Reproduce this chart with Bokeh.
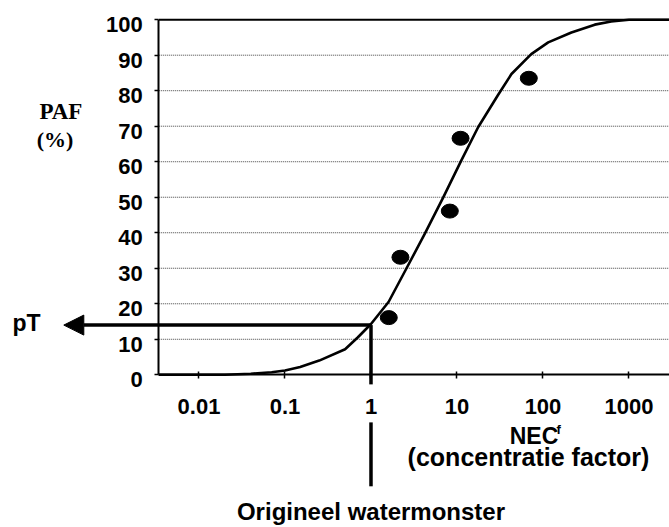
from bokeh.plotting import figure
from bokeh.models import (Range1d, FixedTicker, CustomJSTickFormatter, Label,
                          Arrow, NormalHead, LinearAxis)
from bokeh.embed import file_html
from bokeh.resources import INLINE

# ---- data ----
curve_x = [0.0034, 0.01, 0.02, 0.04, 0.07, 0.1, 0.15, 0.25, 0.5, 0.7, 1.0, 1.6, 2.5,
           4.2, 6.9, 11.2, 17.6, 24, 30, 43, 73, 115, 214, 400, 620, 1000, 2950]
curve_paf = [0, 0, 0, 0.3, 0.7, 1.2, 2.2, 4.0, 7.2, 10.5, 14.3, 20.5, 29.3,
             39.6, 49.9, 60.3, 69.7, 75.0, 78.8, 84.7, 90.3, 93.6, 96.4, 98.6, 99.5, 100, 100]

point_x = [1.61, 2.20, 8.25, 11.0, 68.4]
point_paf = [16.1, 33.1, 46.1, 66.6, 83.5]

x_ticks = [0.01, 0.1, 1, 10, 100, 1000]
x_tick_labels = ["0.01", "0.1", "1", "10", "100", "1000"]
y_ticks = [0, 10, 20, 30, 40, 50, 60, 70, 80, 90, 100]
y_tick_labels = ["0", "10", "20", "30", "40", "50", "60", "70", "80", "90", "100"]
grid_ticks = [10, 20, 30, 40, 50, 60, 70, 80, 90]

sample_x = 1.0      # original water sample (concentration factor 1)
pt_value = 14.0     # pT

# plot-area extent (axis bounds)
X_LO, X_HI = 0.00341, 2958
Y_LO, Y_HI = 0, 100
Y_LABEL_DROP = 1.4   # y tick labels sit slightly below their ticks in the original

FONT = "Liberation Sans"

p = figure(width=669, height=527, x_axis_type="log",
           x_range=Range1d(4.92e-5, 2958), y_range=Range1d(-43.0, 105.4),
           output_backend="svg", toolbar_location=None,
           min_border_left=0, min_border_right=0, min_border_top=0, min_border_bottom=0)
p.outline_line_color = None
p.background_fill_color = "white"
p.border_fill_color = "white"
p.xgrid.visible = False
p.ygrid.visible = False

xaxis = p.xaxis[0]
xaxis.fixed_location = 0
xaxis.bounds = (X_LO, X_HI)
xaxis.ticker = FixedTicker(ticks=x_ticks)
xaxis.formatter = CustomJSTickFormatter(args=dict(tvals=x_ticks, tlabels=x_tick_labels), code="""
const i = tvals.findIndex(t => Math.abs(Math.log10(t) - Math.log10(tick)) < 1e-6);
return i >= 0 ? tlabels[i] : '';
""")
xaxis.minor_tick_line_color = None
xaxis.major_tick_in = 3
xaxis.major_tick_out = 4
xaxis.axis_line_width = 2
xaxis.major_tick_line_width = 1.5
xaxis.major_label_standoff = 20
xaxis.major_label_text_font = FONT
xaxis.major_label_text_font_style = "bold"
xaxis.major_label_text_font_size = "22px"
xaxis.major_label_text_color = "black"

# y axis: line and tick marks
yaxis = p.yaxis[0]
yaxis.fixed_location = X_LO
yaxis.bounds = (Y_LO, Y_HI)
yaxis.ticker = FixedTicker(ticks=y_ticks)
yaxis.minor_tick_line_color = None
yaxis.major_tick_in = 0
yaxis.major_tick_out = 4
yaxis.axis_line_width = 2
yaxis.major_tick_line_width = 1.5
yaxis.major_label_text_font_size = "0px"
yaxis.major_label_text_alpha = 0

# y axis tick labels (same values, nudged down a few pixels like the original)
ylab_axis = LinearAxis(fixed_location=X_LO, bounds=(Y_LO - Y_LABEL_DROP, Y_HI),
                       ticker=FixedTicker(ticks=[v - Y_LABEL_DROP for v in y_ticks]),
                       formatter=CustomJSTickFormatter(
                           args=dict(tvals=y_ticks, tlabels=y_tick_labels, drop=Y_LABEL_DROP),
                           code="""
const i = tvals.findIndex(t => Math.abs(t - (tick + drop)) < 1e-6);
return i >= 0 ? tlabels[i] : '';
"""))
ylab_axis.axis_line_color = None
ylab_axis.major_tick_line_color = None
ylab_axis.minor_tick_line_color = None
ylab_axis.major_tick_in = 0
ylab_axis.major_tick_out = 4
ylab_axis.major_label_standoff = 12
ylab_axis.major_label_text_font = FONT
ylab_axis.major_label_text_font_style = "bold"
ylab_axis.major_label_text_font_size = "22px"
ylab_axis.major_label_text_color = "black"
p.add_layout(ylab_axis, "left")

# dotted horizontal gridlines across the plot area, solid line on top
p.segment(x0=[X_LO] * len(grid_ticks), x1=[X_HI] * len(grid_ticks), y0=grid_ticks, y1=grid_ticks,
          line_color="#222222", line_dash="1 1", line_width=1, line_alpha=0.85)
p.segment(x0=[X_LO], x1=[X_HI], y0=[Y_HI], y1=[Y_HI], line_color="black", line_width=2)

# curve and points
p.line(curve_x, curve_paf, line_color="black", line_width=2.6)
p.ellipse(x=point_x, y=point_paf, width=17, height=14, width_units="screen", height_units="screen",
          fill_color="black", line_color="black")

# pT arrow and sample line
p.add_layout(Arrow(x_start=sample_x, y_start=pt_value, x_end=0.000268, y_end=pt_value,
                   line_width=3.5, line_color="black",
                   end=NormalHead(size=20, fill_color="black", line_color="black", line_width=1)))
p.add_layout(Arrow(x_start=sample_x, y_start=pt_value, x_end=sample_x, y_end=-2.7,
                   line_width=3.5, line_color="black", end=None))
p.add_layout(Arrow(x_start=sample_x, y_start=-13.4, x_end=sample_x, y_end=-31.4,
                   line_width=3.5, line_color="black", end=None))

def lab(x, y, text, size, font=FONT, align="center"):
    p.add_layout(Label(x=x, y=y, text=text, text_font=font, text_font_style="bold",
                       text_font_size=size, text_align=align, text_baseline="alphabetic",
                       text_color="black"))

lab(9.86e-5, 14.5, "pT", "23px")
lab(2.48e-4, 74.2, "PAF", "23px", font="Liberation Serif")
lab(2.12e-4, 66.3, "(%)", "22px", font="Liberation Serif")
lab(78.6, -17.35, "NEC", "23px")
lab(143.6, -15.4, "f", "13px", align="left")
lab(67.8, -23.2, "(concentratie factor)", "25px")
lab(1.0, -38.6, "Origineel watermonster", "24px")

open("out.html", "w").write(file_html(p, INLINE))
